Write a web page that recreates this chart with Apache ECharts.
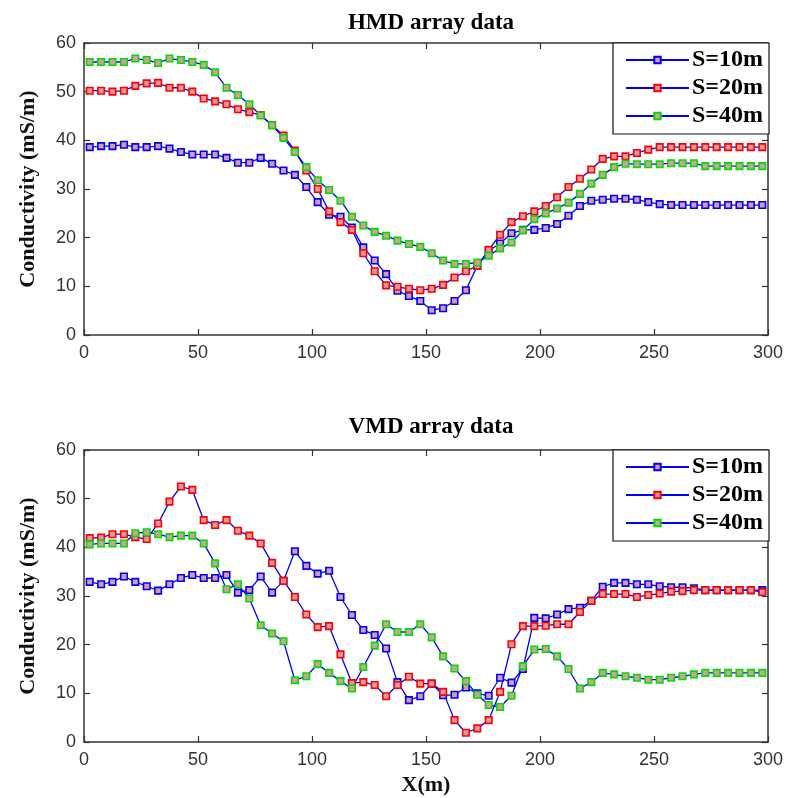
<!DOCTYPE html>
<html>
<head>
<meta charset="utf-8">
<script src="https://cdn.jsdelivr.net/npm/echarts@6/dist/echarts.min.js"></script>
<style>html,body{margin:0;padding:0;background:#fff}#c{width:787px;height:798px}</style>
</head>
<body>
<div id="c"></div>
<script>
// Distance along profile (m)
const xPos = [2.5,7.5,12.5,17.5,22.5,27.5,32.5,37.5,42.5,47.5,52.5,57.5,62.5,67.5,72.5,77.5,82.5,87.5,92.5,97.5,
  102.5,107.5,112.5,117.5,122.5,127.5,132.5,137.5,142.5,147.5,152.5,157.5,162.5,167.5,172.5,177.5,182.5,187.5,192.5,197.5,
  202.5,207.5,212.5,217.5,222.5,227.5,232.5,237.5,242.5,247.5,252.5,257.5,262.5,267.5,272.5,277.5,282.5,287.5,292.5,297.5];
const xTicks = [0,50,100,150,200,250,300];
const yTicks = [0,10,20,30,40,50,60];
const seriesNames = ['S=10m','S=20m','S=40m'];

// HMD array data
const hmd10 = [38.6,38.8,38.8,39.1,38.6,38.6,38.8,38.3,37.6,37.1,37.1,37.1,36.4,35.4,35.4,36.4,35.2,33.8,32.9,30.4,
  27.3,24.7,24.3,22.1,18.0,15.3,12.5,9.1,8.0,7.0,5.1,5.5,7.0,9.2,14.2,17.3,18.8,20.9,21.6,21.6,
  22.0,22.8,24.5,26.5,27.6,27.8,28.0,28.0,27.8,27.3,26.9,26.7,26.7,26.7,26.7,26.7,26.7,26.7,26.7,26.7];
const hmd20 = [50.2,50.2,50.0,50.2,51.2,51.7,51.8,50.8,50.8,50.0,48.6,48.0,47.4,46.4,45.8,45.2,43.1,41.0,37.9,33.8,
  30.0,25.4,23.2,21.6,16.8,13.1,10.2,9.9,9.5,9.2,9.5,10.3,11.8,13.1,14.2,17.5,20.6,23.2,24.4,25.4,
  26.5,28.3,30.4,32.1,34.0,36.2,36.7,36.7,37.4,38.1,38.6,38.6,38.6,38.6,38.6,38.6,38.6,38.6,38.6,38.6];
const hmd40 = [56.1,56.1,56.1,56.1,56.8,56.5,55.9,56.8,56.5,56.1,55.5,54.0,50.8,49.3,47.4,45.1,43.1,40.5,37.6,34.5,
  31.8,29.8,27.6,24.3,22.5,21.2,20.4,19.4,18.7,18.1,16.8,15.3,14.6,14.6,14.9,16.3,17.8,19.0,21.5,23.8,
  25.0,26.0,27.2,29.0,31.1,32.9,34.5,35.2,35.1,35.1,35.1,35.3,35.3,35.3,34.7,34.7,34.7,34.7,34.7,34.7];

// VMD array data
const vmd10 = [32.9,32.4,32.9,34.0,32.9,32.0,31.1,32.4,33.7,34.3,33.7,33.7,34.3,30.7,31.2,34.0,30.7,33.1,39.2,36.2,
  34.6,35.2,29.8,26.1,23.0,22.0,19.2,12.3,8.6,9.4,12.0,9.6,9.7,11.2,10.0,9.5,13.2,12.2,15.0,25.5,
  25.4,26.2,27.3,27.6,29.0,31.9,32.7,32.7,32.4,32.4,32.0,31.8,31.8,31.6,31.2,31.2,31.2,31.2,31.2,31.2];
const vmd20 = [41.9,42.0,42.7,42.7,42.1,41.7,44.9,49.4,52.5,51.8,45.6,44.6,45.6,43.4,42.4,40.8,36.8,33.1,29.8,26.2,
  23.6,23.8,18.0,12.1,12.3,11.7,9.4,11.7,13.4,12.0,12.0,10.3,4.5,1.9,2.8,4.5,10.3,20.1,23.8,23.8,
  23.9,24.2,24.2,26.7,29.0,30.4,30.4,30.4,29.8,30.2,30.5,30.9,31.0,31.2,31.2,31.2,31.2,31.2,31.2,30.8];
const vmd40 = [40.6,40.8,40.8,40.8,42.9,43.1,42.7,42.1,42.4,42.4,40.8,36.7,31.4,32.4,29.5,24.0,22.3,20.7,12.7,13.5,
  16.0,14.2,12.5,11.0,15.4,19.8,24.2,22.6,22.6,24.2,21.5,17.6,15.1,12.5,9.7,7.6,7.2,9.5,15.6,19.0,
  19.1,17.6,15.0,11.0,12.3,14.2,13.9,13.5,13.2,12.8,12.8,13.2,13.5,13.9,14.2,14.2,14.2,14.2,14.2,14.2];

const edgeColors = ['#0000ff','#ff0000','#00dd00'];
const faceColor = '#d99c9c';
const serif = '"Liberation Serif","Times New Roman",serif';
const sans = '"Liberation Sans",Arial,sans-serif';
const axisColor = '#333';

function pairs(ys){ return ys.map((y,i)=>[xPos[i], y]); }

function xAx(grid, pos, showLabel, name){
  return {
    type:'value', gridIndex:grid, position:pos, min:0, max:300, interval:50,
    axisLine:{show:true, onZero:false, lineStyle:{color:axisColor, width:1.5}},
    axisTick:{show:true, inside:true, length:6, lineStyle:{color:axisColor, width:1.2}},
    axisLabel:{show:showLabel, color:axisColor, fontFamily:sans, fontSize:18, margin:9},
    splitLine:{show:false},
    name: name || '', nameLocation:'middle', nameGap:32,
    nameTextStyle:{fontFamily:serif, fontWeight:'bold', fontSize:22, color:'#111'}
  };
}
function yAx(grid, pos, showLabel){
  return {
    type:'value', gridIndex:grid, position:pos, min:0, max:60, interval:10,
    axisLine:{show:true, onZero:false, lineStyle:{color:axisColor, width:1.5}},
    axisTick:{show:true, inside:true, length:6, lineStyle:{color:axisColor, width:1.2}},
    axisLabel:{show:showLabel, color:axisColor, fontFamily:sans, fontSize:18, margin:8},
    splitLine:{show:false},
    name: showLabel ? 'Conductivity (mS/m)' : '', nameLocation:'middle', nameGap:45, nameRotate:90,
    nameTextStyle:{fontFamily:serif, fontWeight:'bold', fontSize:22, color:'#111'}
  };
}
function mkSeries(name, data, xi, yi, k){
  return {
    name:name, type:'line', xAxisIndex:xi, yAxisIndex:yi, data:pairs(data),
    symbol:'rect', symbolSize:6.5, showAllSymbol:true,
    lineStyle:{color:'#0000ff', width:1.3},
    itemStyle:{color:faceColor, borderColor:edgeColors[k], borderWidth:1.6},
    emphasis:{disabled:true}
  };
}
function mkLegend(top){
  return {
    data:seriesNames, orient:'vertical', left:613, top:top,
    itemWidth:63, itemHeight:8, itemGap:4,
    padding:[5,6,6,12], borderColor:'#111', borderWidth:1.2, backgroundColor:'#fff',
    textStyle:{fontFamily:serif, fontWeight:'bold', fontSize:24, color:'#000', lineHeight:24, padding:[0,0,0,-2]}
  };
}

const chart = echarts.init(document.getElementById('c'), null, {renderer:'canvas'});
chart.setOption({
  animation:false,
  backgroundColor:'#fff',
  title:[
    {text:'HMD array data', left:426, top:7, textAlign:'center',
     textStyle:{fontFamily:serif, fontWeight:'bold', fontSize:23, color:'#000'}},
    {text:'VMD array data', left:426, top:411, textAlign:'center',
     textStyle:{fontFamily:serif, fontWeight:'bold', fontSize:23, color:'#000'}}
  ],
  grid:[
    {left:84, top:43, width:684, height:292},
    {left:84, top:450, width:684, height:292}
  ],
  xAxis:[ xAx(0,'bottom',true), xAx(0,'top',false), xAx(1,'bottom',true,'X(m)'), xAx(1,'top',false) ],
  yAxis:[ yAx(0,'left',true), yAx(0,'right',false), yAx(1,'left',true), yAx(1,'right',false) ],
  legend:[ mkLegend(43), mkLegend(450) ],
  series:[
    mkSeries('S=10m', hmd10, 0, 0, 0),
    mkSeries('S=20m', hmd20, 0, 0, 1),
    mkSeries('S=40m', hmd40, 0, 0, 2),
    mkSeries('S=10m', vmd10, 2, 2, 0),
    mkSeries('S=20m', vmd20, 2, 2, 1),
    mkSeries('S=40m', vmd40, 2, 2, 2)
  ]
});
</script>
</body>
</html>
